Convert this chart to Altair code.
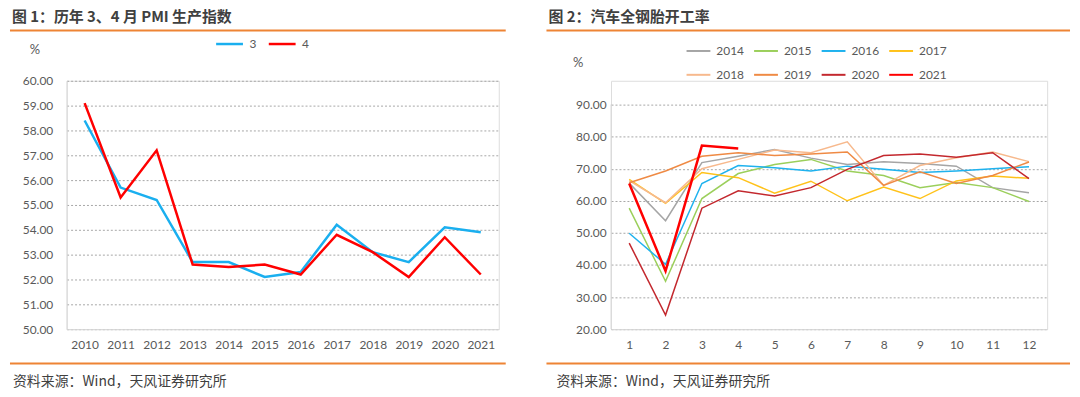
import altair as alt
import pandas as pd

# ---------------- data ----------------
TITLE1 = "图 1：历年 3、4 月 PMI 生产指数"
TITLE2 = "图 2：汽车全钢胎开工率"
SOURCE = "资料来源：Wind，天风证券研究所"
UNIT = "%"

years = ["2010", "2011", "2012", "2013", "2014", "2015",
         "2016", "2017", "2018", "2019", "2020", "2021"]
pmi_mar = [58.4, 55.7, 55.2, 52.7, 52.7, 52.1, 52.3, 54.2, 53.1, 52.7, 54.1, 53.9]
pmi_apr = [59.1, 55.3, 57.2, 52.6, 52.5, 52.6, 52.2, 53.8, 53.1, 52.1, 53.7, 52.2]
pmi_series = ["3", "4"]
pmi_ticks = [50, 51, 52, 53, 54, 55, 56, 57, 58, 59, 60]

months = [1, 2, 3, 4, 5, 6, 7, 8, 9, 10, 11, 12]
tyre_years = ["2014", "2015", "2016", "2017", "2018", "2019", "2020", "2021"]
tyre_2014 = [65.5, 53.8, 71.9, 73.9, 76.0, 73.3, 71.3, 72.2, 71.6, 70.8, 64.1, 62.5]
tyre_2015 = [57.7, 34.9, 60.7, 68.5, 71.3, 72.9, 69.3, 67.9, 64.1, 65.7, 64.1, 59.8]
tyre_2016 = [49.9, 40.2, 65.4, 71.0, 70.3, 69.3, 70.8, 69.8, 68.8, 69.3, 70.0, 70.6]
tyre_2017 = [66.7, 59.2, 68.8, 67.2, 62.4, 66.1, 60.0, 64.3, 60.7, 66.2, 67.7, 67.0]
tyre_2018 = [66.3, 59.4, 70.0, 72.9, 75.8, 75.0, 78.4, 64.8, 71.0, 73.4, 75.2, 72.2]
tyre_2019 = [65.6, 69.3, 73.9, 75.0, 74.1, 74.6, 75.2, 64.8, 69.0, 65.4, 67.9, 72.1]
tyre_2020 = [46.8, 24.4, 57.7, 63.1, 61.5, 64.1, 69.8, 74.1, 74.6, 73.6, 75.0, 66.9]
tyre_2021 = [65.4, 38.1, 77.2, 76.3]
tyre_ticks = [20, 30, 40, 50, 60, 70, 80, 90]

pmi_colors = ["#1AAFEF", "#FF0000"]
tyre_colors = ["#A5A5A5", "#9BCF5B", "#1FB2EE", "#FFC21A",
               "#F7B98D", "#EF8A44", "#C3282E", "#FF0000"]

# ---------------- tables ----------------
pmi_df = pd.DataFrame(
    [{"year": y, "s": "3", "v": v} for y, v in zip(years, pmi_mar)]
    + [{"year": y, "s": "4", "v": v} for y, v in zip(years, pmi_apr)]
)
tyre_rows = []
for yr, vals in zip(tyre_years, [tyre_2014, tyre_2015, tyre_2016, tyre_2017,
                                 tyre_2018, tyre_2019, tyre_2020, tyre_2021]):
    for m, v in zip(months, vals):
        tyre_rows.append({"m": m, "yr": yr, "v": v})
tyre_df = pd.DataFrame(tyre_rows)

LABEL_FONT = "Lato"
CJK = "Noto Sans CJK SC"
GRAY = "#595959"
ORANGE = "#EE8434"


def one(text):
    return pd.DataFrame({"t": [text]})


def decorations(title, left_x, right_x, src_x, unit_x, unit_y):
    t = alt.Chart(one(title)).mark_text(
        align="left", baseline="middle", font=CJK, fontSize=15,
        fontWeight="bold", color="#404040"
    ).encode(text="t:N", x=alt.value(left_x + 2), y=alt.value(-64))
    top_rule = alt.Chart(one("r")).mark_rule(color=ORANGE, strokeWidth=2).encode(
        x=alt.value(left_x), x2=alt.value(right_x), y=alt.value(-50.5))
    bot_rule = alt.Chart(one("r")).mark_rule(color=ORANGE, strokeWidth=2).encode(
        x=alt.value(left_x), x2=alt.value(right_x), y=alt.value(284.5))
    src = alt.Chart(one(SOURCE)).mark_text(
        align="left", baseline="middle", font=CJK, fontSize=14, color="#404040"
    ).encode(text="t:N", x=alt.value(src_x), y=alt.value(303))
    unit = alt.Chart(one(UNIT)).mark_text(
        align="center", baseline="middle", font=LABEL_FONT, fontSize=13, color=GRAY
    ).encode(text="t:N", x=alt.value(unit_x), y=alt.value(unit_y))
    return [t, top_rule, bot_rule, src, unit]


# ---------------- left panel ----------------
W1, H = 435, 250
x1 = alt.X("year:O", sort=years,
           scale=alt.Scale(type="point", padding=0.5),
           axis=alt.Axis(title=None, labelAngle=0, ticks=False, grid=False,
                         domainColor="#D9D9D9", labelPadding=10,
                         labelFont=LABEL_FONT, labelFontSize=12, labelColor=GRAY))
y1 = alt.Y("v:Q", scale=alt.Scale(domain=[50, 60], nice=False, zero=False),
           axis=alt.Axis(title=None, values=pmi_ticks, format=".2f", ticks=False,
                         grid=True, gridDash=[2, 2], gridColor="#A6A6A6",
                         domainColor="#D9D9D9", labelPadding=14, labelOverlap=False,
                         labelFont=LABEL_FONT, labelFontSize=12, labelColor=GRAY))
lines1 = alt.Chart(pmi_df).mark_line(strokeWidth=2.5).encode(
    x=x1, y=y1,
    color=alt.Color("s:N", scale=alt.Scale(domain=pmi_series, range=pmi_colors),
                    legend=alt.Legend(title=None, orient="none", legendX=149, legendY=-52,
                                      direction="horizontal", symbolType="stroke",
                                      symbolSize=729, symbolStrokeWidth=2.5,
                                      labelFont=LABEL_FONT, labelFontSize=12,
                                      labelColor=GRAY, labelOffset=5,
                                      columnPadding=7, padding=0))
)
left = alt.layer(lines1, *decorations(TITLE1, -57, 442, -54, -32, -31)).properties(
    width=W1, height=H)

# ---------------- right panel ----------------
W2 = 439
PX_PER_UNIT = 3.23
ymax = 20 + H / PX_PER_UNIT
x2 = alt.X("m:O", scale=alt.Scale(type="point", padding=0.5),
           axis=alt.Axis(title=None, labelAngle=0, ticks=False, grid=False,
                         domainColor="#D9D9D9", labelPadding=10,
                         labelFont=LABEL_FONT, labelFontSize=12, labelColor=GRAY))
y2 = alt.Y("v:Q", scale=alt.Scale(domain=[20, ymax], nice=False, zero=False),
           axis=alt.Axis(title=None, values=tyre_ticks, format=".2f", ticks=False,
                         tickCount=8, grid=True, gridDash=[2, 2], gridColor="#A6A6A6",
                         domain=False, labelPadding=5, labelOverlap=False,
                         labelFont=LABEL_FONT, labelFontSize=12, labelColor=GRAY))
color2 = alt.Color("yr:N", scale=alt.Scale(domain=tyre_years, range=tyre_colors),
                   legend=alt.Legend(title=None, orient="none", legendX=75, legendY=-43,
                                     direction="horizontal", columns=4,
                                     symbolType="stroke", symbolSize=576,
                                     symbolStrokeWidth=2,
                                     labelFont=LABEL_FONT, labelFontSize=12,
                                     labelColor=GRAY, labelOffset=5,
                                     columnPadding=6, rowPadding=5, padding=0))
lines_old = alt.Chart(tyre_df).transform_filter(
    alt.datum.yr != "2021").mark_line(strokeWidth=1.5).encode(x=x2, y=y2, color=color2)
lines_new = alt.Chart(tyre_df).transform_filter(
    alt.datum.yr == "2021").mark_line(strokeWidth=2.5, color="#FF0000").encode(
    x=alt.X("m:O"), y=alt.Y("v:Q"), color=alt.Color("yr:N"))
# y-axis line from 20 to 90 only
axis_line = alt.Chart(one("a")).mark_rule(color="#D9D9D9", strokeWidth=1).encode(
    x=alt.value(0), y=alt.value(H - (90 - 20) * PX_PER_UNIT), y2=alt.value(H))
right = alt.layer(lines_old, lines_new, axis_line,
                  *decorations(TITLE2, -65, 462, -55, -33, -18)).properties(
    width=W2, height=H)

chart = alt.hconcat(left, right, spacing=113, bounds="flush", padding=0).resolve_scale(
    color="independent", x="independent", y="independent"
).configure_view(stroke=None).configure(background="white")

chart.save("out.html", embed_options={"renderer": "svg", "actions": False})
